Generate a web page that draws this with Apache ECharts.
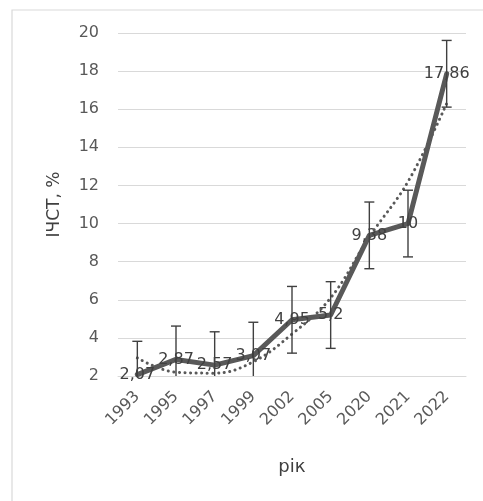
<!DOCTYPE html>
<html>
<head>
<meta charset="utf-8">
<script src="https://cdn.jsdelivr.net/npm/echarts@6/dist/echarts.min.js"></script>
<style>html,body{margin:0;padding:0;background:#fff}#c{width:483px;height:501px}</style>
</head>
<body>
<div id="c"></div>
<script>
const categories = ['1993','1995','1997','1999','2002','2005','2020','2021','2022'];
const values = [2.07, 2.87, 2.57, 3.07, 4.95, 5.2, 9.38, 10, 17.86];
const valueLabels = ['2,07','2,87','2,57','3,07','4,95','5,2','9,38','10','17,86'];
const errors = [1.75, 1.75, 1.75, 1.75, 1.75, 1.75, 1.75, 1.75, 1.75];
const trend = [2.95, 2.2, 2.15, 2.75, 4.2, 6.1, 9.3, 12.2, 16.3];
const yTicks = [2, 4, 6, 8, 10, 12, 14, 16, 18, 20];

const FONT = 'DejaVu Sans';
const chart = echarts.init(document.getElementById('c'), null, {renderer: 'canvas'});
chart.setOption({
  animation: false,
  backgroundColor: '#fff',
  textStyle: {fontFamily: FONT},
  graphic: [{
    type: 'rect', left: 9.5, top: 7.5, silent: true,
    shape: {width: 500, height: 520},
    style: {fill: 'none', stroke: '#d9d9d9', lineWidth: 1.2}
  }],
  grid: {left: 118, right: 17, top: 33, bottom: 125},
  xAxis: {
    type: 'category', data: categories, boundaryGap: true,
    axisLine: {show: true, lineStyle: {color: '#d9d9d9'}},
    axisTick: {show: false},
    axisLabel: {rotate: 45, fontSize: 16, color: '#595959', margin: 18, fontFamily: FONT},
    name: 'рік', nameLocation: 'middle', nameGap: 82,
    nameTextStyle: {fontSize: 18, color: '#404040', fontFamily: FONT}
  },
  yAxis: {
    type: 'value', min: yTicks[0], max: yTicks[yTicks.length - 1], interval: 2,
    axisLine: {show: false}, axisTick: {show: false},
    axisLabel: {fontSize: 16, color: '#595959', margin: 19, fontFamily: FONT},
    splitLine: {lineStyle: {color: '#d9d9d9', width: 1}},
    name: 'ІЧСТ, %', nameLocation: 'middle', nameGap: 55,
    nameTextStyle: {fontSize: 17, color: '#404040', fontFamily: FONT}
  },
  series: [
    {
      type: 'line', data: values, symbol: 'circle', symbolSize: 2, z: 2,
      itemStyle: {color: 'rgba(0,0,0,0)'},
      lineStyle: {color: '#595959', width: 5, cap: 'round', join: 'round'},
      label: {
        show: true, position: 'inside', fontSize: 16, color: '#404040', fontFamily: FONT,
        formatter: p => valueLabels[p.dataIndex]
      },
      labelLayout: {hideOverlap: false},
      emphasis: {disabled: true}
    },
    {
      type: 'line', data: trend, symbol: 'none', smooth: 0.4, z: 3,
      lineStyle: {color: '#595959', width: 3, type: [0.1, 5.5], cap: 'round'}
    },
    {
      type: 'custom', z: 4, clip: true,
      data: values.map((v, i) => [i, v - errors[i], v + errors[i]]),
      renderItem: function (params, api) {
        const x = api.value(0);
        const lo = api.coord([x, api.value(1)]);
        const hi = api.coord([x, api.value(2)]);
        const w = 5;
        const st = {stroke: '#404040', lineWidth: 1.4, fill: null};
        return {
          type: 'group',
          children: [
            {type: 'line', shape: {x1: hi[0], y1: hi[1], x2: lo[0], y2: lo[1]}, style: st},
            {type: 'line', shape: {x1: hi[0] - w, y1: hi[1], x2: hi[0] + w, y2: hi[1]}, style: st},
            {type: 'line', shape: {x1: lo[0] - w, y1: lo[1], x2: lo[0] + w, y2: lo[1]}, style: st}
          ]
        };
      }
    }
  ]
});
</script>
</body>
</html>
